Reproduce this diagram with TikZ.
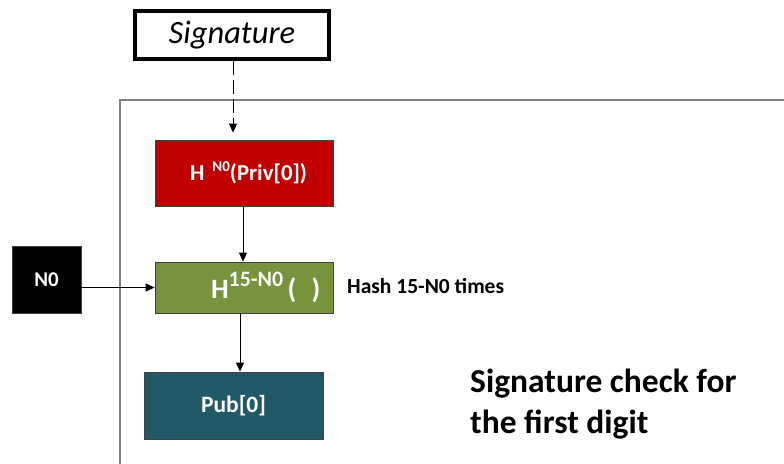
\documentclass[tikz,border=0pt]{standalone}
\usepackage{fontspec}
\setmainfont{Carlito}
\usetikzlibrary{arrows.meta}
\definecolor{redbox}{HTML}{C00000}
\definecolor{greenbox}{HTML}{77933C}
\definecolor{tealbox}{HTML}{215968}
\definecolor{framegray}{HTML}{808080}
\begin{document}
\begin{tikzpicture}[x=1pt,y=-1pt,
  box/.style={draw=black!75, line width=0.8pt, text=white, font=\bfseries, inner sep=0pt},
  arr/.style={-{Triangle[length=9pt,width=8pt]}, line width=0.8pt}]
\useasboundingbox (0,0) rectangle (784,463);
\draw[line width=1.5pt, framegray] (784,100) -- (120,100) -- (120,470);
\node[draw, line width=4pt, minimum width=194pt, minimum height=48pt, inner sep=0pt,
      font=\fontsize{32.5}{34}\selectfont\itshape] (sig) at (232,35) {Signature\hspace{0.2em}};
\node[box, fill=redbox, minimum width=178pt, minimum height=66pt,
      font=\bfseries\fontsize{22.8}{24}\selectfont] (red) at (244,173)
      {\hspace{0.4em}H\hspace{0.35em}\raisebox{0.42em}{\fontsize{15}{15}\selectfont N0}(Priv[0])};
\node[box, fill=greenbox, minimum width=178pt, minimum height=51pt,
      font=\bfseries\fontsize{28}{30}\selectfont] (green) at (244,287.5)
      {\hspace{1.55em}H\raisebox{0.4em}{\fontsize{22}{22}\selectfont 15-N0}\hspace{0.15em}(\hspace{0.55em})};
\node[box, fill=black, minimum width=69pt, minimum height=67pt,
      font=\bfseries\fontsize{21}{22}\selectfont] (n0) at (46.5,279.5) {N0};
\node[box, fill=tealbox, minimum width=179pt, minimum height=67pt,
      font=\bfseries\fontsize{23.5}{25}\selectfont] (pub) at (233.5,405.5) {Pub[0]};
\node[anchor=base west, inner sep=0pt, font=\bfseries\fontsize{21.5}{23}\selectfont] (hash) at (347,293) {Hash 15-N0 times};
\node[anchor=north west, inner sep=0pt, align=left,
      font=\bfseries\fontsize{33.5}{41}\selectfont] (title) at (470,369)
      {Signature check for\\the first digit};
\coordinate (c0) at (233,0);
\coordinate (c1) at (243,0);
\coordinate (c2) at (240,0);
\draw[arr, dash pattern=on 14pt off 5pt, shorten >=7pt] (sig.south -| c0) -- (red.north -| c0);
\draw[arr] (red.south -| c1) -- (green.north -| c1);
\draw[arr] (green.south -| c2) -- (pub.north -| c2);
\draw[arr] (n0.east |- green.west) -- (green.west);
\end{tikzpicture}
\end{document}
